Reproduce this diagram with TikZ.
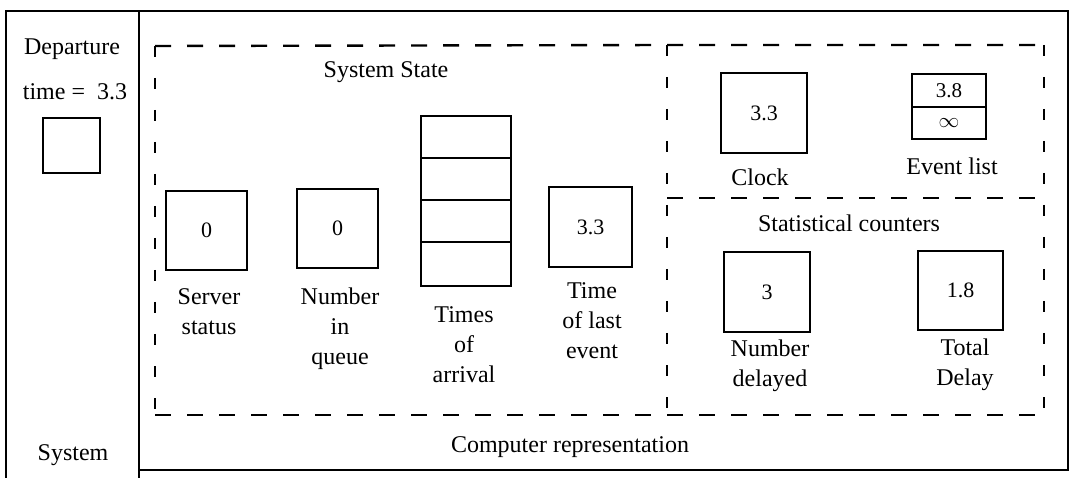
\documentclass[tikz,border=0pt]{standalone}
\usepackage{fontspec}
\setmainfont{Liberation Serif}
\begin{document}
\begin{tikzpicture}[x=1pt,y=-1pt,
  lbl/.style={font=\fontsize{24}{30}\selectfont, align=center, inner sep=0pt},
  cell/.style={draw, line width=2.2pt, inner sep=0pt, outer sep=0pt,
               font=\fontsize{22}{24}\selectfont},
  framel/.style={line width=2.2pt},
  hdash/.style={line width=2.4pt, dash pattern=on 16pt off 16pt},
  vdash/.style={line width=2.4pt, dash pattern=on 11pt off 21pt}]
\useasboundingbox (0,0) rectangle (1071,478);

% outer frame and the divider between system and computer representation
\coordinate (fTL) at (6,11);
\coordinate (fTR) at (1068,11);
\coordinate (fBL) at (6,478);
\coordinate (dT) at (139,11);
\coordinate (dB) at (139,478);
\coordinate (fBM) at (139,470);
\coordinate (fBR) at (1068,470);
\draw[framel] (fBL) -- (fTL) -- (fTR) -- (fBR) -- (fBM);
\draw[framel] (dT) -- (dB);

% system column
\node[lbl] (dep) at (72,49) {Departure};
\node[lbl] (dtime) at (75,92) {time =\ \ 3.3};
\node[cell, minimum width=57pt, minimum height=55pt] (dbox) at (71.5,145.5) {};
\node[lbl] (sys) at (73,455) {System};

% dashed regions
\coordinate (sTL) at (155,46);
\coordinate (sBL) at (155,415);
\coordinate (mT) at (667,45);
\coordinate (mM) at (667,198);
\coordinate (mB) at (667,415);
\coordinate (rT) at (1044,45);
\coordinate (rM) at (1044,198);
\coordinate (rB) at (1044,415);
\draw[hdash] (sTL) -- (mT) -- (rT);
\draw[hdash] (sBL) -- (mB) -- (rB);
\draw[hdash] (mM) -- (rM);
\draw[vdash] (sTL) -- (sBL);
\draw[vdash] (mT) -- (mB);
\draw[vdash] (rT) -- (rB);

% system state
\node[lbl] (sstate) at (386,72) {System State};
\node[cell, minimum width=81pt, minimum height=79pt] (server) at (206.5,230.5) {0};
\node[cell, minimum width=81pt, minimum height=79pt] (queue) at (337.5,228.5) {0};
\node[cell, minimum width=90pt, minimum height=42pt] (t1) at (466,137) {};
\node[cell, minimum width=90pt, minimum height=42pt] (t2) at (466,179) {};
\node[cell, minimum width=90pt, minimum height=42pt] (t3) at (466,221) {};
\node[cell, minimum width=90pt, minimum height=44pt] (t4) at (466,264) {};
\node[cell, minimum width=83pt, minimum height=80pt] (last) at (590.5,227) {3.3};

\node[lbl] (lserver) at (209,312) {Server\\status};
\node[lbl] (lqueue) at (340,329) {Number\\in\\queue};
\node[lbl] (larrival) at (464,345) {Times\\of\\arrival};
\node[lbl] (llast) at (592,321) {Time\\of last\\event};

% clock and event list
\node[cell, minimum width=86pt, minimum height=80pt] (clock) at (764,113) {3.3};
\node[cell, minimum width=74pt, minimum height=33pt, font=\fontsize{21}{22}\selectfont] (e1) at (949,90.5) {3.8};
\node[cell, minimum width=74pt, minimum height=32pt, font=\fontsize{20}{22}\selectfont] (e2) at (949,123) {$\infty$};
\node[lbl] (lclock) at (760,177) {Clock};
\node[lbl] (levent) at (952,166) {Event list};

% statistical counters
\node[lbl] (stat) at (849,223) {Statistical counters};
\node[cell, minimum width=86pt, minimum height=80pt] (ndel) at (767,292) {3};
\node[cell, minimum width=85pt, minimum height=79pt] (tdel) at (960.5,290.5) {1.8};
\node[lbl] (lndel) at (770,366) {Number\\delayed};
\node[lbl] (ltdel) at (965,365) {Total\\Delay};

\node[lbl] (comp) at (570,447) {Computer representation};
\end{tikzpicture}
\end{document}
